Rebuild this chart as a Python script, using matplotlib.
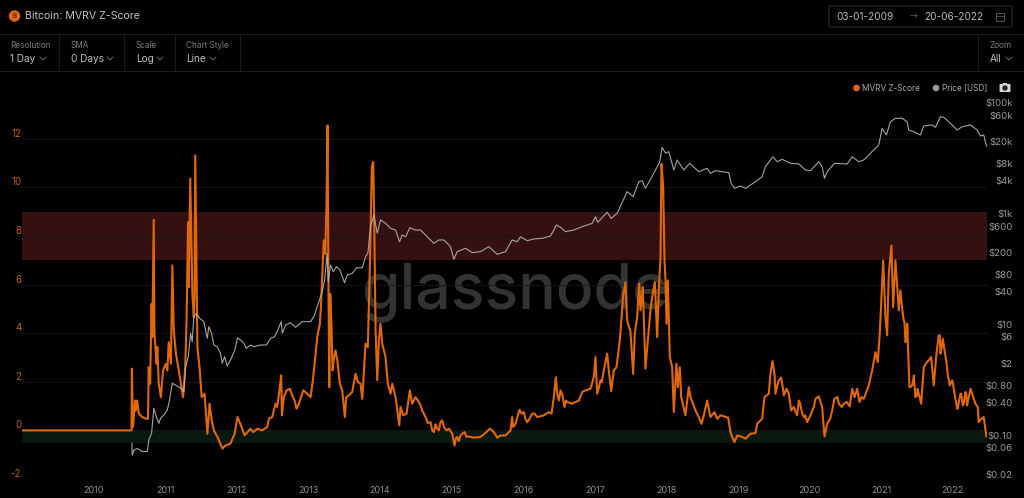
import matplotlib
matplotlib.use("Agg")
import matplotlib.pyplot as plt
from matplotlib.patches import Circle, Rectangle, FancyBboxPatch

plt.rcParams["font.family"] = ["Inter", "DejaVu Sans"]

ORANGE = "#e0680a"
GREY = "#b4b4b4"
LINE = "#1c1c1c"

# MVRV Z-Score (decimal year, score)
z_years = [2009.01, 2010.53, 2010.535, 2010.55, 2010.58, 2010.59, 2010.61, 2010.63, 2010.68, 2010.73, 2010.76,
           2010.77, 2010.79, 2010.81, 2010.82, 2010.84, 2010.85, 2010.88, 2010.89, 2010.91, 2010.94, 2010.97,
           2011.01, 2011.03, 2011.05, 2011.08, 2011.10, 2011.12, 2011.15, 2011.19, 2011.25, 2011.28, 2011.30,
           2011.32, 2011.33, 2011.35, 2011.38, 2011.40, 2011.41, 2011.42, 2011.45, 2011.48, 2011.51, 2011.55,
           2011.59, 2011.62, 2011.65, 2011.68, 2011.73, 2011.80, 2011.84, 2011.91, 2011.97, 2012.01, 2012.05,
           2012.11, 2012.15, 2012.19, 2012.23, 2012.286, 2012.356, 2012.426, 2012.449, 2012.495, 2012.542,
           2012.565, 2012.602, 2012.621, 2012.63, 2012.658, 2012.696, 2012.742, 2012.775, 2012.807, 2012.835,
           2012.868, 2012.929, 2012.985, 2013.031, 2013.063, 2013.087, 2013.124, 2013.161, 2013.18, 2013.203,
           2013.217, 2013.236, 2013.254, 2013.268, 2013.278, 2013.292, 2013.306, 2013.324, 2013.338, 2013.356,
           2013.38, 2013.404, 2013.44, 2013.473, 2013.51, 2013.529, 2013.566, 2013.613, 2013.659, 2013.691,
           2013.729, 2013.753, 2013.799, 2013.831, 2013.859, 2013.887, 2013.906, 2013.92, 2013.939, 2013.962,
           2013.985, 2014.008, 2014.032, 2014.078, 2014.11, 2014.148, 2014.172, 2014.218, 2014.242, 2014.27,
           2014.288, 2014.326, 2014.372, 2014.418, 2014.451, 2014.497, 2014.543, 2014.567, 2014.591, 2014.637,
           2014.707, 2014.753, 2014.80, 2014.846, 2014.893, 2014.963, 2015.01, 2015.042, 2015.079, 2015.126,
           2015.182, 2015.242, 2015.312, 2015.405, 2015.475, 2015.535, 2015.591, 2015.638, 2015.684, 2015.754,
           2015.824, 2015.847, 2015.894, 2015.95, 2016.01, 2016.057, 2016.127, 2016.197, 2016.289, 2016.359,
           2016.397, 2016.429, 2016.457, 2016.476, 2016.522, 2016.578, 2016.615, 2016.685, 2016.778, 2016.825,
           2016.941, 2016.987, 2017.011, 2017.034, 2017.081, 2017.127, 2017.174, 2017.197, 2017.23, 2017.267,
           2017.304, 2017.351, 2017.398, 2017.43, 2017.453, 2017.5, 2017.537, 2017.56, 2017.593, 2017.621,
           2017.64, 2017.672, 2017.709, 2017.742, 2017.779, 2017.803, 2017.84, 2017.873, 2017.895, 2017.919,
           2017.933, 2017.957, 2017.975, 2017.989, 2018.003, 2018.021, 2018.049, 2018.082, 2018.105, 2018.142,
           2018.161, 2018.189, 2018.208, 2018.268, 2018.314, 2018.338, 2018.408, 2018.454, 2018.492, 2018.524,
           2018.571, 2018.617, 2018.673, 2018.711, 2018.757, 2018.803, 2018.864, 2018.897, 2018.92, 2018.953,
           2018.99, 2019.06, 2019.106, 2019.176, 2019.246, 2019.269, 2019.339, 2019.372, 2019.432, 2019.455,
           2019.483, 2019.511, 2019.525, 2019.572, 2019.605, 2019.641, 2019.711, 2019.745, 2019.828, 2019.851,
           2019.898, 2019.921, 2019.968, 2020.014, 2020.084, 2020.13, 2020.177, 2020.21, 2020.247, 2020.317,
           2020.349, 2020.41, 2020.48, 2020.563, 2020.596, 2020.666, 2020.698, 2020.759, 2020.828, 2020.876,
           2020.922, 2020.954, 2020.982, 2021.03, 2021.061, 2021.085, 2021.108, 2021.145, 2021.169, 2021.201,
           2021.248, 2021.271, 2021.295, 2021.327, 2021.341, 2021.365, 2021.397, 2021.434, 2021.457, 2021.504,
           2021.56, 2021.597, 2021.666, 2021.736, 2021.774, 2021.806, 2021.83, 2021.862, 2021.923, 2021.96,
           2021.993, 2022.063, 2022.109, 2022.141, 2022.179, 2022.202, 2022.249, 2022.318, 2022.351, 2022.378,
           2022.434, 2022.472]
z_scores = [0.0, 0.0, 2.54, 0.14, 1.23, 0.82, 1.23, 0.70, 0.55, 0.48, 0.48,
            2.6, 1.92, 5.21, 3.84, 8.67, 3.98, 2.74, 3.43, 1.92, 1.37, 2.47,
            2.74, 2.47, 3.63, 2.74, 6.79, 4.12, 3.16, 2.47, 1.37, 2.6, 4.66,
            8.57, 5.9, 10.36, 5.62, 4.66, 5.49, 11.32, 3.43, 2.6, 1.37, 1.51,
            -0.14, 1.1, 0.41, 0.0, -0.27, -0.75, -0.62, -0.55, -0.14, 0.55, 0.27,
            -0.2, -0.07, 0.07, -0.07, 0.07, 0.0, 0.14, 0.48, 0.55, 1.1,
            0.96, 1.78, 2.26, 0.62, 1.37, 1.65, 1.71, 1.44, 1.23, 0.89,
            1.1, 1.65, 1.51, 1.37, 2.06, 2.74, 3.84, 4.39, 5.35, 7.0,
            7.82, 7.27, 9.33, 12.55, 7.27, 1.78, 5.62, 4.25, 2.47, 2.95,
            3.29, 2.88, 1.92, 1.65, 0.55, 1.37, 1.44, 1.58, 2.33, 1.99,
            1.92, 1.3, 3.57, 3.43, 6.72, 10.84, 11.04, 8.64, 4.12, 2.06,
            3.7, 4.39, 3.57, 3.02, 1.92, 1.51, 1.92, 1.37, 0.82, 0.21,
            0.96, 0.62, 0.69, 1.65, 1.1, 1.37, 1.17, 1.03, 0.82, 0.55,
            0.34, -0.07, 0.07, 0.34, 0.14, 0.07, -0.14, -0.62, -0.27, -0.21,
            -0.07, -0.25, -0.3, -0.27, -0.1, 0.07, -0.07, -0.3, -0.21, -0.21,
            0.0, 0.55, 0.27, 0.85, 0.75, 0.34, 0.69, 0.55, 0.62, 0.75,
            0.69, 1.37, 2.19, 1.51, 1.65, 0.96, 1.17, 1.1, 1.23, 1.58,
            1.71, 2.19, 3.02, 1.51, 2.06, 2.47, 3.16, 2.47, 1.62, 2.47,
            2.6, 3.7, 5.56, 6.1, 4.53, 4.05, 2.33, 3.98, 4.66, 6.04,
            4.94, 5.9, 2.54, 3.7, 4.94, 5.49, 6.1, 3.84, 5.76, 7.13,
            10.97, 10.01, 7.0, 6.17, 4.39, 6.17, 3.02, 2.6, 0.75, 2.74,
            1.78, 2.6, 1.37, 0.62, 1.78, 1.37, 0.82, 0.55, 0.27, 0.62,
            1.23, 0.55, 0.75, 0.48, 0.62, 0.58, 0.52, -0.07, -0.27, -0.48,
            -0.21, -0.27, -0.34, -0.14, -0.11, 0.27, 0.48, 1.37, 1.51, 2.33,
            2.85, 2.33, 1.51, 2.06, 2.17, 1.44, 1.51, 0.82, 0.62, 1.23,
            0.69, 0.55, 0.34, 0.62, 1.3, 1.4, 0.96, -0.25, 0.27, 0.82,
            1.3, 1.1, 1.1, 0.99, 1.71, 1.71, 1.17, 1.3, 1.85, 2.47,
            3.22, 2.81, 3.98, 7.0, 4.66, 3.91, 6.45, 7.61, 5.07, 7.0,
            4.94, 5.76, 5.01, 4.46, 3.63, 3.98, 1.78, 1.85, 2.26, 1.44,
            1.1, 2.6, 2.88, 1.85, 3.16, 3.91, 3.16, 3.77, 2.6, 1.85,
            2.06, 0.89, 1.51, 1.03, 1.58, 1.03, 1.71, 1.1, 0.96, 0.41,
            0.55, -0.25]

# extra small wiggles
detail_years = [2014.67, 2014.73, 2014.776, 2014.823, 2014.87, 2014.93, 2015.06, 2015.10, 2015.15, 2015.21,
                2015.568, 2015.86, 2015.92, 2015.98, 2016.03, 2016.09, 2016.16, 2016.50, 2016.55, 2016.60,
                2016.87, 2017.06, 2017.10, 2019.55, 2019.63, 2019.68, 2019.78, 2019.87, 2019.94, 2020.06,
                2020.29, 2020.39, 2020.45, 2020.52, 2020.63, 2020.73, 2021.317, 2021.35, 2021.365, 2021.41,
                2021.457, 2021.48, 2021.51, 2021.64, 2021.70, 2021.82, 2021.84, 2021.93, 2022.0, 2022.07,
                2022.12, 2022.155, 2022.19, 2022.25, 2022.364]
detail_scores = [0.30, 0.0, 0.25, 0.0, 0.41, 0.0, -0.34, -0.44, -0.14, -0.27,
                 0.0, 0.14, 0.55, 0.69, 0.48, 0.48, 0.69, 1.23, 1.44, 1.23,
                 1.65, 1.78, 1.99, 1.85, 1.71, 1.71, 0.96, 1.1, 0.62, 0.96,
                 0.48, 1.37, 0.96, 1.17, 1.37, 1.37, 4.53, 3.7, 4.39, 1.78,
                 2.19, 1.37, 1.71, 2.81, 3.02, 3.91, 3.29, 2.33, 1.99, 0.89,
                 1.51, 1.1, 1.51, 1.71, 0.34]

# BTC price in USD
price_years = [2010.535, 2010.54, 2010.563, 2010.61, 2010.68, 2010.75, 2010.772, 2010.81, 2010.842, 2010.876,
               2010.912, 2010.936, 2010.982, 2011.029, 2011.052, 2011.099, 2011.145, 2011.215, 2011.261, 2011.285,
               2011.323, 2011.355, 2011.378, 2011.40, 2011.439, 2011.48, 2011.54, 2011.588, 2011.61, 2011.648,
               2011.68, 2011.727, 2011.773, 2011.797, 2011.83, 2011.867, 2011.913, 2011.973, 2012.011, 2012.053,
               2012.10, 2012.133, 2012.193, 2012.239, 2012.332, 2012.416, 2012.472, 2012.528, 2012.574, 2012.621,
               2012.635, 2012.682, 2012.751, 2012.821, 2012.915, 2013.031, 2013.077, 2013.147, 2013.194, 2013.226,
               2013.263, 2013.278, 2013.31, 2013.348, 2013.394, 2013.44, 2013.506, 2013.543, 2013.613, 2013.673,
               2013.753, 2013.799, 2013.831, 2013.869, 2013.915, 2013.962, 2014.008, 2014.078, 2014.148, 2014.218,
               2014.274, 2014.311, 2014.358, 2014.418, 2014.497, 2014.567, 2014.66, 2014.753, 2014.823, 2014.893,
               2014.986, 2015.032, 2015.079, 2015.196, 2015.289, 2015.405, 2015.521, 2015.638, 2015.754, 2015.847,
               2015.917, 2015.964, 2016.057, 2016.15, 2016.267, 2016.383, 2016.466, 2016.522, 2016.592, 2016.708,
               2016.825, 2016.965, 2017.011, 2017.043, 2017.174, 2017.23, 2017.314, 2017.398, 2017.453, 2017.537,
               2017.616, 2017.663, 2017.709, 2017.825, 2017.909, 2017.942, 2017.989, 2018.035, 2018.105, 2018.152,
               2018.244, 2018.328, 2018.454, 2018.571, 2018.617, 2018.687, 2018.873, 2018.906, 2018.953, 2019.036,
               2019.106, 2019.246, 2019.339, 2019.385, 2019.488, 2019.549, 2019.619, 2019.735, 2019.851, 2019.944,
               2020.014, 2020.13, 2020.177, 2020.21, 2020.247, 2020.349, 2020.526, 2020.596, 2020.689, 2020.759,
               2020.852, 2020.968, 2021.015, 2021.075, 2021.131, 2021.201, 2021.295, 2021.365, 2021.387, 2021.457,
               2021.55, 2021.597, 2021.714, 2021.76, 2021.83, 2021.876, 2021.969, 2022.063, 2022.133, 2022.249,
               2022.343, 2022.388, 2022.434, 2022.472]
price_usd = [0.072, 0.044, 0.054, 0.058, 0.051, 0.051, 0.083, 0.109, 0.308, 0.217,
             0.165, 0.203, 0.233, 0.287, 0.379, 0.87, 0.81, 0.71, 0.615, 1.74,
             2.63, 6.97, 4.91, 13.9, 16.0, 13.0, 11.3, 5.65, 9.2, 6.97,
             4.28, 3.99, 3.03, 2.0, 2.63, 1.79, 2.3, 3.47, 5.79, 5.27,
             4.59, 3.73, 4.28, 3.99, 4.28, 4.28, 5.65, 6.04, 7.98, 11.3,
             6.97, 9.84, 10.8, 8.93, 11.3, 11.3, 13.9, 25.9, 39.3, 63.8,
             194, 59.4, 119, 90, 111, 97, 57, 78.5, 84, 106,
             106, 168, 194, 585, 950, 445, 773, 673, 547, 509,
             313, 414, 385, 561, 509, 509, 385, 293, 337, 337,
             255, 151, 207, 238, 199, 207, 255, 186, 207, 337,
             313, 385, 327, 351, 361, 397, 628, 570, 475, 509,
             585, 673, 885, 701, 1065, 828, 1021, 1770, 2510, 2040,
             3790, 3950, 2880, 5380, 8710, 15800, 12400, 13200, 6170, 9350,
             6170, 8150, 5750, 6620, 5380, 6000, 5520, 3550, 2880, 3180,
             2880, 3790, 4670, 7080, 10700, 8710, 9620, 8150, 7930, 6170,
             6000, 8710, 7080, 4370, 5750, 8150, 7930, 10700, 8710, 9350,
             12400, 17500, 34900, 26400, 45900, 53000, 53000, 45900, 32500, 30300,
             26400, 38500, 40100, 36400, 56600, 55200, 43000, 32500, 37300, 40100,
             32500, 25400, 26400, 16700]

year_ticks = list(range(2010, 2023))
z_ticks = [12, 10, 8, 6, 4, 2, 0, -2]
price_ticks = [100000, 60000, 20000, 8000, 4000, 1000, 600, 200, 80, 40, 10, 6, 2, 0.8, 0.4, 0.1, 0.06, 0.02]
price_labels = ["$100k", "$60k", "$20k", "$8k", "$4k", "$1k", "$600", "$200", "$80", "$40", "$10", "$6", "$2",
                "$0.80", "$0.40", "$0.10", "$0.06", "$0.02"]

z_pairs = sorted(zip(z_years + detail_years, z_scores + detail_scores))

W, H = 1024, 498
fig = plt.figure(figsize=(W / 100, H / 100), dpi=100, facecolor="black")

# score axis, with the price axis on top of it
ax = fig.add_axes([22 / W, 19 / H, 965 / W, 390 / H], facecolor="none")
ax.set_xlim(2009.0, 2022.48)
ax.set_ylim(-2, 14.05)
ax.axhspan(7, 9, color="#351010", lw=0, zorder=1)
ax.axhspan(-0.5, 0, color="#08180c", lw=0, zorder=1)
ax.text(2015.88, 5.7, "glassnode", color="#333333", fontsize=45, fontweight="medium",
        ha="center", va="center", zorder=1.5)
ax.plot([p[0] for p in z_pairs], [p[1] for p in z_pairs], color=ORANGE, lw=1.5, solid_joinstyle="round", zorder=3)
ax.set_yticks(z_ticks)
ax.set_yticklabels([str(t) for t in z_ticks], color="#c05e12", fontsize=7)
for lab in ax.get_yticklabels():
    lab.set_verticalalignment("bottom")
ax.set_xticks(year_ticks)
ax.set_xticklabels([str(y) for y in year_ticks], color="#8c8c8c", fontsize=6.5)
ax.tick_params(axis="both", length=0)
ax.tick_params(axis="x", pad=5)
ax.tick_params(axis="y", pad=0.5)
ax.grid(axis="y", color="#161616", lw=0.6, zorder=2)
ax.set_axisbelow(False)
for s in ax.spines.values():
    s.set_visible(False)

ax2 = ax.twinx()
ax2.set_facecolor("none")
ax2.set_yscale("log")
ax2.set_ylim(0.0163, 178900)
ax2.plot(price_years, price_usd, color=GREY, lw=0.8, alpha=0.9, zorder=4)
ax2.set_yticks(price_ticks)
ax2.set_yticklabels(price_labels, color="#9a9a9a", fontsize=6.9, ha="right")
ax2.minorticks_off()
ax2.tick_params(axis="y", which="both", length=0, pad=18.5)
for s in ax2.spines.values():
    s.set_visible(False)

# page chrome around the chart, in pixel coordinates
ui = fig.add_axes([0, 0, 1, 1], facecolor="none")
ui.set_xlim(0, W)
ui.set_ylim(H, 0)
ui.axis("off")

for y in (34, 71):
    ui.plot([0, W], [y, y], color=LINE, lw=0.8)
for x in (59, 124, 175, 240, 978):
    ui.plot([x, x], [34, 71], color=LINE, lw=0.8)


def chevron(x, y):
    ui.plot([x - 3, x, x + 3], [y - 1.5, y + 1.5, y - 1.5], color="#777777", lw=0.6)


controls = [(10, "Resolution", "1 Day", 43), (71, "SMA", "0 Days", 110), (136, "Scale", "Log", 160),
            (186, "Chart Style", "Line", 213), (990, "Zoom", "All", 1009)]
for x, top, val, chev in controls:
    ui.text(x, 45, top, color="#7a7a7a", fontsize=5.9, va="center")
    ui.text(x, 59, val, color="#bdbdbd", fontsize=7.2, va="center")
    chevron(chev, 58.5)

ui.add_patch(Circle((14.5, 16), 5, color="#e0680a"))
ui.text(14.5, 16.2, "B", color="#5a2a00", fontsize=4.5, ha="center", va="center", fontweight="bold")
ui.text(25, 16, "Bitcoin: MVRV Z-Score", color="#c4c4c4", fontsize=7.6, va="center")

ui.add_patch(FancyBboxPatch((829, 6), 183, 21, boxstyle="round,pad=0,rounding_size=1.5", fill=False, ec="#2c2c2c", lw=0.8))
ui.text(836, 16.5, "03-01-2009", color="#b8b8b8", fontsize=7.2, va="center")
ui.text(914, 16.5, "\u2192", color="#555555", fontsize=7, va="center", ha="center", family="DejaVu Sans")
ui.text(924, 16.5, "20-06-2022", color="#b8b8b8", fontsize=7.2, va="center")
ui.add_patch(Rectangle((996, 13), 8, 7.5, fill=False, ec="#555555", lw=0.7))
ui.plot([996, 1004], [15.5, 15.5], color="#555555", lw=0.6)

ui.add_patch(Circle((856.5, 88), 2.6, color=ORANGE))
ui.text(862.5, 88, "MVRV Z-Score", color="#a8a8a8", fontsize=5.9, va="center")
ui.add_patch(Circle((936, 88), 2.6, color="#9a9a9a"))
ui.text(942, 88, "Price [USD]", color="#a8a8a8", fontsize=5.9, va="center")
ui.add_patch(FancyBboxPatch((999.5, 84), 11, 8, boxstyle="round,pad=0,rounding_size=1", color="#d8d8d8", lw=0))
ui.add_patch(Rectangle((1003, 82.5), 4, 2, color="#d8d8d8", lw=0))
ui.add_patch(Circle((1005, 88), 2, color="#222222"))

fig.savefig("out.png", dpi=100, facecolor="black")
